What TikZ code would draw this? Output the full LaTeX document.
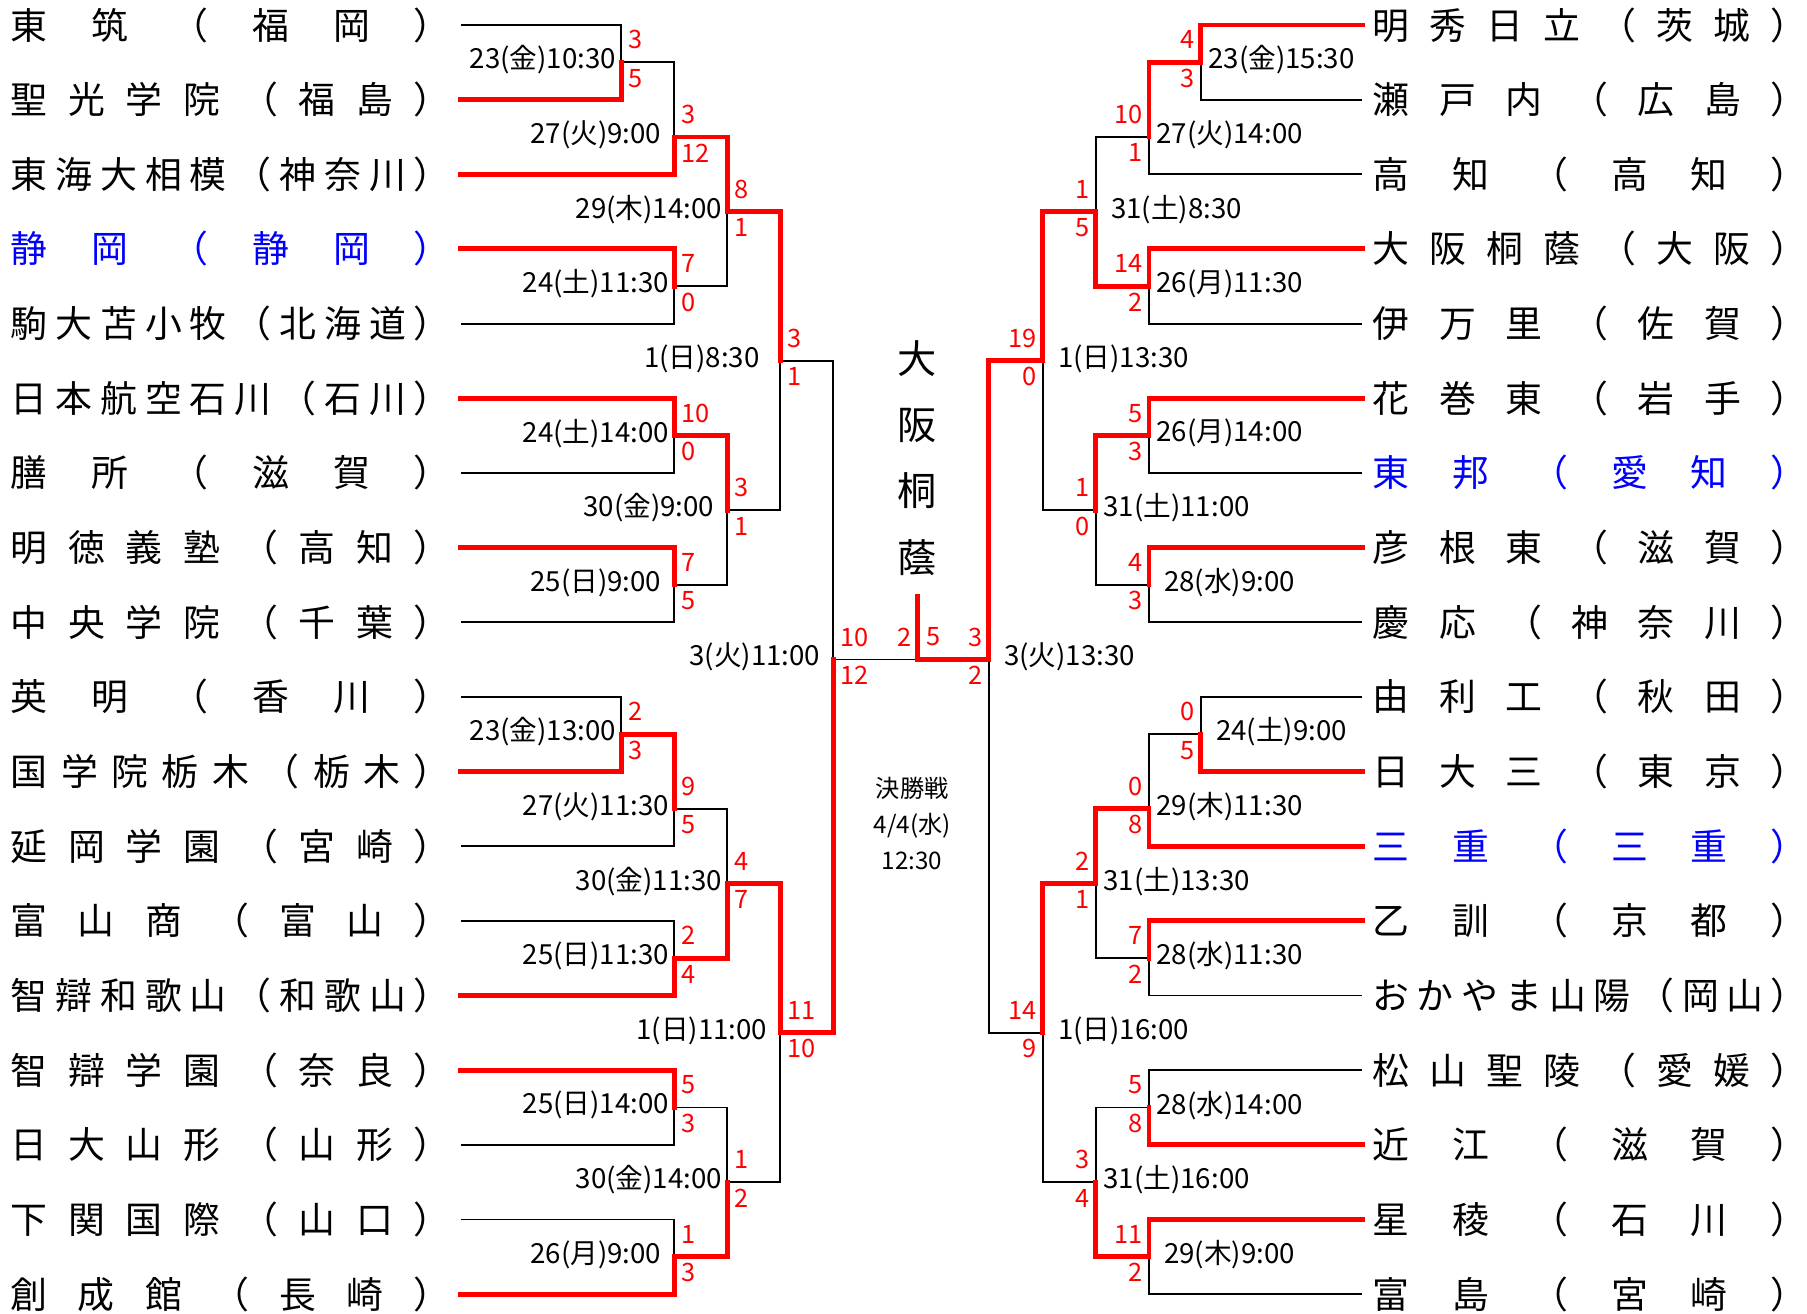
\documentclass[tikz,border=0pt]{standalone}
\usepackage{fontspec}
\setmainfont{Noto Sans CJK JP}
\newfontfamily\datefont{Noto Sans CJK JP}

\newcommand*{\namew}{382pt}
\newcommand*{\teambox}[1]{\makebox[\namew][s]{#1}}

% game x / top y / top from x / bottom y / bottom from x / junction y / winner from x / winner y / date / scores
\newcommand*{\leftgames}{%
539/0/400/1/400/0.5/400/1/23(金)10:30/3/5,%
585/0.5/539/2/400/1.5/400/2/27(火)9:00/3/12,%
585/3/400/4/400/3.5/400/3/24(土)11:30/7/0,%
631/1.5/585/3.5/585/2.5/585/1.5/29(木)14:00/8/1,%
585/5/400/6/400/5.5/400/5/24(土)14:00/10/0,%
585/7/400/8/400/7.5/400/7/25(日)9:00/7/5,%
631/5.5/585/7.5/585/6.5/585/5.5/30(金)9:00/3/1,%
677/2.5/631/6.5/631/4.5/631/2.5/1(日)8:30/3/1,%
539/9/400/10/400/9.5/400/10/23(金)13:00/2/3,%
585/9.5/539/11/400/10.5/539/9.5/27(火)11:30/9/5,%
585/12/400/13/400/12.5/400/13/25(日)11:30/2/4,%
631/10.5/585/12.5/585/11.5/585/12.5/30(金)11:30/4/7,%
585/14/400/15/400/14.5/400/14/25(日)14:00/5/3,%
585/16/400/17/400/16.5/400/17/26(月)9:00/1/3,%
631/14.5/585/16.5/585/15.5/585/16.5/30(金)14:00/1/2,%
677/11.5/631/15.5/631/13.5/631/11.5/1(日)11:00/11/10,%
723/4.5/677/13.5/677/8.5/677/13.5/3(火)11:00/10/12}

\newcommand*{\rightgames}{%
1042/0/1182/1/1182/0.5/1182/0/23(金)15:30/4/3,%
997/0.5/1042/2/1182/1.5/1042/0.5/27(火)14:00/10/1,%
997/3/1182/4/1182/3.5/1182/3/26(月)11:30/14/2,%
951/1.5/997/3.5/997/2.5/997/3.5/31(土)8:30/1/5,%
997/5/1182/6/1182/5.5/1182/5/26(月)14:00/5/3,%
997/7/1182/8/1182/7.5/1182/7/28(水)9:00/4/3,%
951/5.5/997/7.5/997/6.5/997/5.5/31(土)11:00/1/0,%
905/2.5/951/6.5/951/4.5/951/2.5/1(日)13:30/19/0,%
1042/9/1182/10/1182/9.5/1182/10/24(土)9:00/0/5,%
997/9.5/1042/11/1182/10.5/1182/11/29(木)11:30/0/8,%
997/12/1182/13/1182/12.5/1182/12/28(水)11:30/7/2,%
951/10.5/997/12.5/997/11.5/997/10.5/31(土)13:30/2/1,%
997/14/1182/15/1182/14.5/1182/15/28(水)14:00/5/8,%
997/16/1182/17/1182/16.5/1182/16/29(木)9:00/11/2,%
951/14.5/997/16.5/997/15.5/997/16.5/31(土)16:00/3/4,%
905/11.5/951/15.5/951/13.5/951/11.5/1(日)16:00/14/9,%
858/4.5/905/13.5/905/8.5/905/4.5/3(火)13:30/3/2}

\begin{document}
\begin{tikzpicture}
[
	x=1pt,y=-64.78pt,
	team/.style={anchor=west,inner sep=0pt,font=\fontsize{32}{36}\selectfont},
	date/.style={inner sep=0pt,font=\datefont\fontsize{24}{28}\selectfont},
	score/.style={red,inner sep=0pt,font=\fontsize{22}{26}\selectfont},
	bar/.style={line width=1.6pt},
	win/.style={red,line width=4.3pt,line cap=rect},
	note/.style={align=center,inner sep=0pt}
]

	\useasboundingbox (0pt,21.7pt) rectangle (1568pt,-1118.3pt);

	% teams
	\foreach \r/\c/\t in {0/black/東 筑 （ 福 岡 ）,1/black/聖 光 学 院 （ 福 島 ）,
		2/black/東 海 大 相 模 （ 神 奈 川 ）,3/blue/静 岡 （ 静 岡 ）,
		4/black/駒 大 苫 小 牧 （ 北 海 道 ）,5/black/日 本 航 空 石 川 （ 石 川 ）,
		6/black/膳 所 （ 滋 賀 ）,7/black/明 徳 義 塾 （ 高 知 ）,
		8/black/中 央 学 院 （ 千 葉 ）,9/black/英 明 （ 香 川 ）,
		10/black/国 学 院 栃 木 （ 栃 木 ）,11/black/延 岡 学 園 （ 宮 崎 ）,
		12/black/富 山 商 （ 富 山 ）,13/black/智 辯 和 歌 山 （ 和 歌 山 ）,
		14/black/智 辯 学 園 （ 奈 良 ）,15/black/日 大 山 形 （ 山 形 ）,
		16/black/下 関 国 際 （ 山 口 ）,17/black/創 成 館 （ 長 崎 ）}
		\node[team,\c] (ln\r) at (9,\r) {\teambox{\t}};

	\foreach \r/\c/\t in {0/black/明 秀 日 立 （ 茨 城 ）,1/black/瀬 戸 内 （ 広 島 ）,
		2/black/高 知 （ 高 知 ）,3/black/大 阪 桐 蔭 （ 大 阪 ）,
		4/black/伊 万 里 （ 佐 賀 ）,5/black/花 巻 東 （ 岩 手 ）,
		6/blue/東 邦 （ 愛 知 ）,7/black/彦 根 東 （ 滋 賀 ）,
		8/black/慶 応 （ 神 奈 川 ）,9/black/由 利 工 （ 秋 田 ）,
		10/black/日 大 三 （ 東 京 ）,11/blue/三 重 （ 三 重 ）,
		12/black/乙 訓 （ 京 都 ）,13/black/お か や ま 山 陽 （ 岡 山 ）,
		14/black/松 山 聖 陵 （ 愛 媛 ）,15/black/近 江 （ 滋 賀 ）,
		16/black/星 稜 （ 石 川 ）,17/black/富 島 （ 宮 崎 ）}
		\node[team,\c] (rn\r) at (1191,\r) {\makebox[377pt][s]{\t}};

	% bracket lines
	\foreach \xg/\ya/\xa/\yb/\xb/\yj/\xw/\yw/\dt/\ka/\kb in \leftgames
		\draw[bar] (\xa,\ya) -- (\xg,\ya) -- (\xg,\yb) -- (\xb,\yb);
	\foreach \xg/\ya/\xa/\yb/\xb/\yj/\xw/\yw/\dt/\ka/\kb in \rightgames
		\draw[bar] (\xa,\ya) -- (\xg,\ya) -- (\xg,\yb) -- (\xb,\yb);
	\draw[bar] (723,8.5) -- (858,8.5);

	% winners, dates and scores
	\foreach \xg/\ya/\xa/\yb/\xb/\yj/\xw/\yw/\dt/\ka/\kb [count=\i] in \leftgames
	{
		\draw[win] (\xw,\yw) -- (\xg,\yw) -- (\xg,\yj);
		\node[date,xshift=-68pt,yshift=2pt] (ld\i) at (\xg,\yj) {\dt};
		\node[score,anchor=west,xshift=6pt,yshift=19.5pt] (lka\i) at (\xg,\yj) {\ka};
		\node[score,anchor=west,xshift=6pt,yshift=-13.8pt] (lkb\i) at (\xg,\yj) {\kb};
	}
	\foreach \xg/\ya/\xa/\yb/\xb/\yj/\xw/\yw/\dt/\ka/\kb [count=\i] in \rightgames
	{
		\draw[win] (\xw,\yw) -- (\xg,\yw) -- (\xg,\yj);
		\node[date,xshift=70pt,yshift=2pt] (rd\i) at (\xg,\yj) {\dt};
		\node[score,anchor=east,xshift=-5pt,yshift=19.5pt] (rka\i) at (\xg,\yj) {\ka};
		\node[score,anchor=east,xshift=-5pt,yshift=-13.8pt] (rkb\i) at (\xg,\yj) {\kb};
	}

	% final
	\draw[win] (858,8.5) -- (796,8.5) -- (796,7.66);
	\node[score,anchor=east,xshift=-5pt,yshift=19.5pt] (fka) at (796,8.5) {2};
	\node[score,anchor=west,xshift=8pt,yshift=19.5pt] (fkb) at (796,8.5) {5};
	\node[note,font=\fontsize{34}{57.5}\selectfont] (champ) at (796,5.80) {大\\阪\\桐\\蔭};
	\node[note,font=\fontsize{21}{31.5}\selectfont] (final) at (791.5,10.695) {決勝戦\\4/4(水)\\12:30};

\end{tikzpicture}
\end{document}
